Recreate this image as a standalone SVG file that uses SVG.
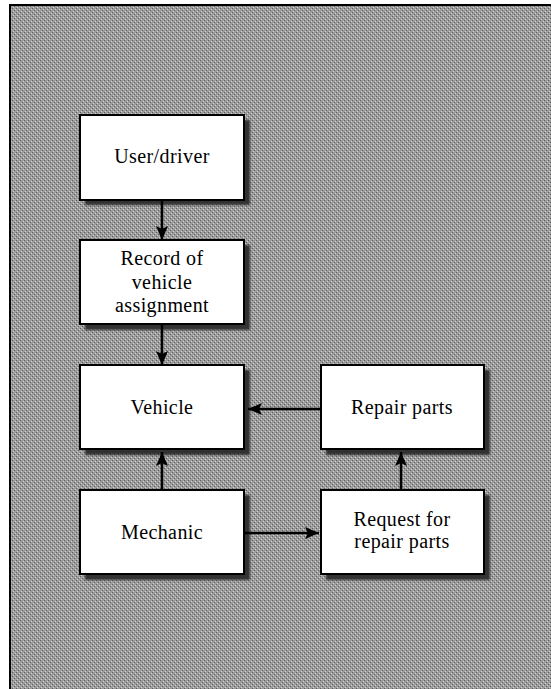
<svg xmlns="http://www.w3.org/2000/svg" width="551" height="689" viewBox="0 0 551 689">
<defs>
<pattern id="ht" width="4" height="4" patternUnits="userSpaceOnUse">
<rect width="4" height="4" fill="#9c9c9c"/>
<rect x="0" y="0" width="1" height="1" fill="#5e5e5e"/>
<rect x="2" y="2" width="1" height="1" fill="#5e5e5e"/>
<rect x="1" y="3" width="1" height="1" fill="#d0d0d0"/>
<rect x="3" y="1" width="1" height="1" fill="#d0d0d0"/>
</pattern>
<filter id="blur" x="-10%" y="-10%" width="120%" height="120%"><feGaussianBlur stdDeviation="1.2"/></filter>
<marker id="ah" viewBox="0 0 14 12" refX="14" refY="6" markerWidth="14" markerHeight="12" markerUnits="userSpaceOnUse" orient="auto">
<path d="M0,0 L14,6 L0,12 L3,6 Z" fill="#000"/>
</marker>
</defs>
<style>
.box{fill:#fff;stroke:#000;stroke-width:2}
.shadow{fill:#333;filter:url(#blur)}
.lbl{font-family:"Liberation Serif","Times New Roman",serif;font-size:20px;letter-spacing:0.4px;fill:#000;text-anchor:middle}
.con{stroke:#000;stroke-width:2.5;fill:none;marker-end:url(#ah)}
</style>
<rect x="0" y="0" width="551" height="689" fill="#fff"/>
<rect x="10" y="5" width="545" height="690" fill="url(#ht)" stroke="#000" stroke-width="2"/>
<g id="user-driver">
<rect class="shadow" x="85" y="120" width="165" height="85"/>
<rect class="box" x="80" y="115" width="164" height="85"/>
<text class="lbl" x="162" y="163">User/driver</text>
</g>
<g id="record">
<rect class="shadow" x="85" y="245" width="165" height="85"/>
<rect class="box" x="80" y="240" width="164" height="84"/>
<text class="lbl" x="162" y="265">Record of</text>
<text class="lbl" x="162" y="289">vehicle</text>
<text class="lbl" x="162" y="312">assignment</text>
</g>
<g id="vehicle">
<rect class="shadow" x="85" y="370" width="165" height="85"/>
<rect class="box" x="80" y="365" width="164" height="84"/>
<text class="lbl" x="162" y="414">Vehicle</text>
</g>
<g id="mechanic">
<rect class="shadow" x="85" y="495" width="165" height="85"/>
<rect class="box" x="80" y="490" width="164" height="84"/>
<text class="lbl" x="162" y="539">Mechanic</text>
</g>
<g id="repair-parts">
<rect class="shadow" x="326" y="370" width="164" height="85"/>
<rect class="box" x="321" y="365" width="163" height="84"/>
<text class="lbl" x="402" y="414">Repair parts</text>
</g>
<g id="request">
<rect class="shadow" x="326" y="495" width="164" height="85"/>
<rect class="box" x="321" y="490" width="163" height="84"/>
<text class="lbl" x="402" y="526">Request for</text>
<text class="lbl" x="402" y="548">repair parts</text>
</g>
<g id="connectors">
<line class="con" x1="162" y1="201" x2="162" y2="240"/>
<line class="con" x1="162" y1="325" x2="162" y2="365"/>
<line class="con" x1="162" y1="489" x2="162" y2="452"/>
<line class="con" x1="320" y1="409" x2="248" y2="409"/>
<line class="con" x1="245" y1="533" x2="319" y2="533"/>
<line class="con" x1="401" y1="489" x2="401" y2="452"/>
</g>
</svg>
